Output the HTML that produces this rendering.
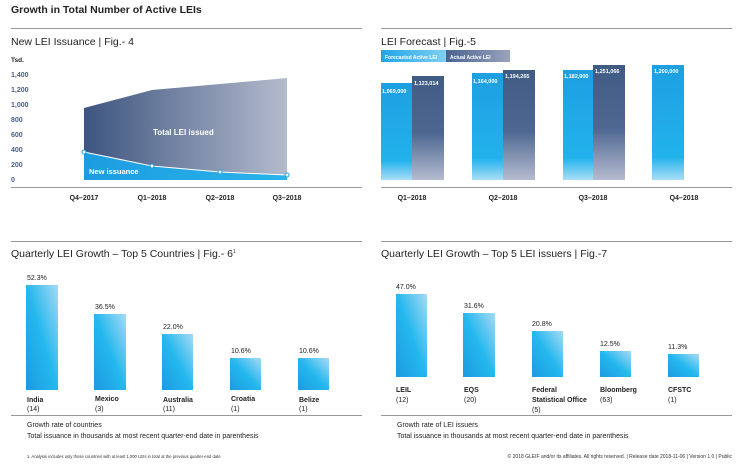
<!DOCTYPE html>
<html><head><meta charset="utf-8"><style>
html,body{margin:0;padding:0;background:#fff;}
svg{display:block;font-family:"Liberation Sans",sans-serif;}
</style></head><body>
<svg width="750" height="472" viewBox="0 0 750 472" xmlns="http://www.w3.org/2000/svg">
<defs>
<linearGradient id="tot" x1="0" y1="0" x2="1" y2="0"><stop offset="0" stop-color="#3d5580"/><stop offset="1" stop-color="#b4bbcd"/></linearGradient>
<linearGradient id="nw" x1="0" y1="0" x2="1" y2="0"><stop offset="0" stop-color="#1c9ce0"/><stop offset="1" stop-color="#2ab3ea"/></linearGradient>
<linearGradient id="fc" x1="0" y1="0" x2="0" y2="1"><stop offset="0" stop-color="#1d9fe2"/><stop offset="0.8" stop-color="#22b2ec"/><stop offset="1" stop-color="#a9def6"/></linearGradient>
<linearGradient id="ac" x1="0" y1="0" x2="0" y2="1"><stop offset="0" stop-color="#405b84"/><stop offset="0.55" stop-color="#4d6791"/><stop offset="1" stop-color="#b5bbd0"/></linearGradient>
<linearGradient id="gb" x1="0" y1="1" x2="1" y2="0"><stop offset="0" stop-color="#1c9ae0"/><stop offset="0.5" stop-color="#24b8ee"/><stop offset="1" stop-color="#a7daf4"/></linearGradient>
<linearGradient id="lf" x1="0" y1="0" x2="1" y2="0"><stop offset="0" stop-color="#22a5e6"/><stop offset="1" stop-color="#7fcff2"/></linearGradient>
<linearGradient id="la" x1="0" y1="0" x2="1" y2="0"><stop offset="0" stop-color="#4a6390"/><stop offset="1" stop-color="#9aa3bd"/></linearGradient>
</defs>
<text x="11" y="13" font-size="10.5" font-weight="bold" fill="#222">Growth in Total Number of Active LEIs</text>
<g stroke="#999" stroke-width="1">
<line x1="11" y1="28.5" x2="362" y2="28.5"/><line x1="381" y1="28.5" x2="732" y2="28.5"/>
<line x1="11" y1="187.5" x2="362" y2="187.5"/><line x1="381" y1="187.5" x2="732" y2="187.5"/>
<line x1="11" y1="241.5" x2="362" y2="241.5"/><line x1="381" y1="241.5" x2="732" y2="241.5"/>
<line x1="11" y1="415.5" x2="362" y2="415.5"/><line x1="381" y1="415.5" x2="732" y2="415.5"/>
</g>
<text x="11" y="45" font-size="10.5" fill="#222">New LEI Issuance  |  Fig.- 4</text>
<text x="11" y="62" font-size="6.5" font-weight="bold" fill="#222">Tsd.</text>
<g font-size="7" font-weight="bold" fill="#4a5e86">
<text x="11" y="77">1,400</text><text x="11" y="92">1,200</text><text x="11" y="107">1,000</text><text x="11" y="122">800</text><text x="11" y="137">600</text><text x="11" y="152">400</text><text x="11" y="167">200</text><text x="11" y="182">0</text></g>
<polygon points="84,108 152,90 220,84 287,78 287,180 84,180" fill="url(#tot)"/>
<polygon points="84,152 152,166 220,172 287,175 287,180 84,180" fill="url(#nw)"/>
<polyline points="84,152 152,166 220,172 287,175" fill="none" stroke="#fff" stroke-width="1"/>
<g fill="#fff" stroke="#1c9ce0" stroke-width="1"><circle cx="84" cy="152" r="2"/><circle cx="152" cy="166" r="2"/><circle cx="220" cy="172" r="2"/><circle cx="287" cy="175" r="2"/></g>
<text x="153" y="135" font-size="8" font-weight="bold" fill="#fff">Total LEI issued</text>
<text x="89" y="174" font-size="7.5" font-weight="bold" fill="#fff">New issuance</text>
<g font-size="7" font-weight="bold" fill="#222" text-anchor="middle">
<text x="84" y="200">Q4–2017</text><text x="152" y="200">Q1–2018</text><text x="220" y="200">Q2–2018</text><text x="287" y="200">Q3–2018</text></g>

<text x="381" y="45" font-size="10.5" fill="#222">LEI Forecast  |  Fig.-5</text>
<rect x="381" y="50" width="65" height="12" fill="url(#lf)"/><rect x="446" y="50" width="64" height="12" fill="url(#la)"/>
<text x="385" y="59" font-size="5" font-weight="bold" fill="#fff">Forecasted Active LEI</text>
<text x="450" y="59" font-size="5" font-weight="bold" fill="#fff">Actual Active LEI</text>
<rect x="381" y="83" width="31" height="97" fill="url(#fc)"/><rect x="412" y="76" width="32" height="104" fill="url(#ac)"/>
<rect x="472" y="73" width="31" height="107" fill="url(#fc)"/><rect x="503" y="70" width="32" height="110" fill="url(#ac)"/>
<rect x="563" y="70" width="30" height="110" fill="url(#fc)"/><rect x="593" y="65" width="32" height="115" fill="url(#ac)"/>
<rect x="652" y="65" width="32" height="115" fill="url(#fc)"/>
<g font-size="5.5" font-weight="bold" fill="#fff">
<text x="382" y="93">1,069,000</text><text x="414" y="85">1,123,014</text>
<text x="473" y="83">1,164,000</text><text x="505" y="78">1,194,265</text>
<text x="564" y="78">1,182,000</text><text x="595" y="73">1,251,066</text>
<text x="654" y="73">1,200,000</text></g>
<g font-size="7" font-weight="bold" fill="#222" text-anchor="middle">
<text x="412" y="200">Q1–2018</text><text x="503" y="200">Q2–2018</text><text x="593" y="200">Q3–2018</text><text x="684" y="200">Q4–2018</text></g>

<text x="11" y="257" font-size="10.5" fill="#222">Quarterly LEI Growth – Top 5 Countries  |  Fig.- 6<tspan font-size="5" dy="-4">1</tspan></text>
<g fill="url(#gb)">
<rect x="26" y="285" width="32" height="105"/><rect x="94" y="314" width="32" height="76"/><rect x="162" y="334" width="31" height="56"/><rect x="230" y="358" width="31" height="32"/><rect x="298" y="358" width="31" height="32"/></g>
<g font-size="7" fill="#222">
<text x="27" y="280">52.3%</text><text x="95" y="309">36.5%</text><text x="163" y="329">22.0%</text><text x="231" y="353">10.6%</text><text x="299" y="353">10.6%</text>
<g font-weight="bold"><text x="27" y="402">India</text><text x="95" y="401">Mexico</text><text x="163" y="402">Australia</text><text x="231" y="401">Croatia</text><text x="299" y="402">Belize</text></g>
<text x="27" y="411">(14)</text><text x="95" y="411">(3)</text><text x="163" y="411">(11)</text><text x="231" y="411">(1)</text><text x="299" y="411">(1)</text>
<text x="27" y="427">Growth rate of countries</text>
<text x="27" y="438">Total issuance in thousands at most recent quarter-end date in parenthesis</text></g>
<text x="27" y="458" font-size="4.2" fill="#333">1. Analysis includes only those countries with at least 1,000 LEIs in total at the previous quarter-end date</text>

<text x="381" y="257" font-size="10.5" fill="#222">Quarterly LEI Growth – Top 5 LEI issuers  |  Fig.-7</text>
<g fill="url(#gb)">
<rect x="396" y="294" width="31" height="83"/><rect x="463" y="313" width="32" height="64"/><rect x="532" y="331" width="31" height="46"/><rect x="600" y="351" width="31" height="26"/><rect x="668" y="354" width="31" height="23"/></g>
<g font-size="7" fill="#222">
<text x="396" y="289">47.0%</text><text x="464" y="308">31.6%</text><text x="532" y="326">20.8%</text><text x="600" y="346">12.5%</text><text x="668" y="349">11.3%</text>
<g font-weight="bold"><text x="396" y="392">LEIL</text><text x="464" y="392">EQS</text><text x="532" y="392">Federal</text><text x="532" y="402">Statistical Office</text><text x="600" y="392">Bloomberg</text><text x="668" y="392">CFSTC</text></g>
<text x="396" y="402">(12)</text><text x="464" y="402">(20)</text><text x="532" y="412">(5)</text><text x="600" y="402">(63)</text><text x="668" y="402">(1)</text>
<text x="397" y="427">Growth rate of LEI issuers</text>
<text x="397" y="438">Total issuance in thousands at most recent quarter-end date in parenthesis</text></g>
<text x="732" y="458" font-size="5" fill="#333" text-anchor="end">© 2018 GLEIF and/or its affiliates. All rights reserved.  |  Release date 2018-11-06  |  Version 1.0  |  Public</text>
</svg>
</body></html>
